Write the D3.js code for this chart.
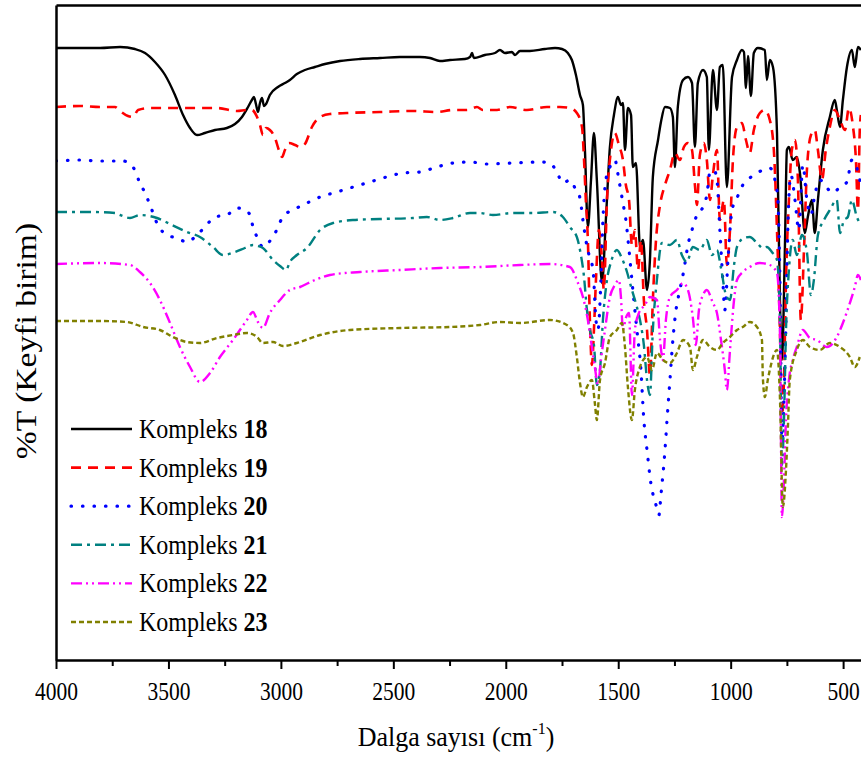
<!DOCTYPE html>
<html><head><meta charset="utf-8">
<script src="https://cdn.jsdelivr.net/npm/d3@7"></script>
<style>body{margin:0;background:#fff}svg{display:block}</style>
</head><body>
<svg id="chart" width="861" height="760"></svg>
<script>
const majorTicks = [4000,3500,3000,2500,2000,1500,1000,500];
const minorTicks = [3750,3250,2750,2250,1750,1250,750];
const legendNames = ["18","19","20","21","22","23"];
const colors = ["#000000","#ff0000","#0000ff","#008080","#ff00ff","#808000"];

const k18 = [[4000,122.4],[3804,122.4],[3715,122.6],[3649,122.2],[3604,121.4],[3560,119.6],[3515,117],[3471,113],[3435,109],[3404,106.4],[3373,105],[3338,105.4],[3293,106],[3240,106.4],[3204,107.2],[3173,108.6],[3146,110.6],[3129,112],[3120,112.6],[3111,111.2],[3102,109.6],[3093,111.4],[3084,112.4],[3075,110.8],[3066,111.2],[3049,113],[3013,114.6],[2982,115.4],[2960,116],[2929,117.2],[2893,118],[2849,118.6],[2804,119.2],[2737,119.8],[2648,120.2],[2559,120.4],[2471,120.6],[2382,120.6],[2337,120.4],[2293,119.8],[2248,120],[2182,120.2],[2159,120.6],[2150,121.4],[2142,120.4],[2093,121],[2048,121.4],[2026,122],[2004,121.4],[1973,121.6],[1959,121],[1937,121.8],[1893,121.8],[1826,122.2],[1781,122.4],[1750,122.2],[1724,121.4],[1706,120],[1688,117],[1670,113],[1657,111],[1648,102],[1635,86.6],[1621,96],[1608,105.4],[1595,96],[1572,75.4],[1555,88],[1537,102.6],[1519,109],[1501,112.6],[1488,111],[1479,111.4],[1470,102],[1457,110.4],[1443,109],[1435,98.6],[1421,99.4],[1403,82.6],[1390,84],[1372,74],[1359,80],[1346,96.6],[1323,104],[1310,107.6],[1292,110.6],[1270,110.4],[1257,108.6],[1248,98.6],[1235,110.6],[1212,116],[1190,116.6],[1172,115.4],[1159,102.6],[1146,115.4],[1123,118],[1106,116.6],[1097,102],[1079,118],[1061,110],[1048,118.6],[1035,119],[1017,94.6],[994,116.6],[972,120],[950,122],[941,121.6],[932,114.4],[923,120.8],[910,112.8],[897,121.4],[879,122.4],[848,122],[839,116],[826,120],[812,118.6],[794,105.4],[781,72],[772,60],[759,82],[750,102],[741,102.6],[724,100],[706,100.6],[692,97.4],[670,85.4],[657,88.6],[639,92],[626,85.4],[612,92],[590,102],[559,108.6],[537,112],[528,110],[514,106.6],[501,112],[483,118.6],[461,122],[448,118.6],[434,122.6],[421,122]];

const k19 = [[4000,110.6],[3893,110.8],[3804,110.6],[3738,110.6],[3715,109.8],[3680,108.8],[3658,108.6],[3635,110],[3582,110.4],[3449,110.4],[3284,110.4],[3195,109.8],[3151,110],[3129,110],[3106,108.6],[3093,107],[3080,105],[3066,106.4],[3049,106],[3026,104.4],[3009,102],[2995,100.6],[2982,102],[2964,103.4],[2937,103],[2915,102.6],[2893,103.2],[2862,106.6],[2826,108.6],[2782,109.2],[2706,109.4],[2559,109.6],[2413,109.8],[2306,109.6],[2235,110],[2173,110],[2128,110.6],[2102,110],[2039,110],[1982,110.6],[1906,110],[1817,110.6],[1760,110.6],[1715,110.4],[1684,109.4],[1661,106.6],[1652,100],[1644,92],[1635,84],[1626,68],[1617,59],[1608,66],[1599,76],[1586,86],[1572,80],[1564,74],[1550,92],[1532,102],[1515,105.4],[1497,103],[1479,100],[1466,95],[1452,92],[1439,83],[1426,86],[1412,78],[1399,84],[1386,72],[1372,66],[1359,57],[1346,72],[1332,84],[1314,91],[1292,95],[1270,98],[1248,101.4],[1226,100],[1208,102.6],[1190,103.4],[1172,102],[1159,95],[1150,91],[1137,101],[1119,103.4],[1106,100],[1092,92],[1079,97],[1061,102],[1048,88],[1030,92],[1017,79],[1003,86],[990,100],[972,106.6],[950,107.4],[932,104],[915,101.4],[897,106],[870,109.4],[848,110],[826,108],[808,102],[794,86],[781,66],[772,49],[763,56],[754,76],[741,92],[728,102],[714,104],[701,96],[688,68],[674,82],[661,98],[643,105],[626,106],[612,102],[594,96],[577,102],[559,106.6],[537,110],[514,108],[492,106],[474,110.4],[457,107],[443,100],[434,90],[426,106],[421,109]];

const k20 = [[4000,99.8],[3893,100],[3804,99.8],[3702,99.8],[3658,98.6],[3627,95.4],[3604,93.4],[3582,91],[3547,87],[3507,85],[3462,84.4],[3418,83.6],[3373,85],[3338,86.6],[3293,88.6],[3240,89],[3195,90.4],[3160,90],[3137,89],[3124,86.6],[3106,84.6],[3080,82.6],[3057,83.4],[3035,84.6],[2991,88.6],[2929,90.4],[2884,91.4],[2826,92.6],[2751,93.6],[2693,94.4],[2604,95.6],[2515,96.8],[2457,97.4],[2382,97.6],[2306,98.6],[2235,99.4],[2159,99.6],[2084,99.2],[1968,99.4],[1848,99.6],[1804,99.4],[1773,97.6],[1746,95.4],[1715,96],[1688,94],[1670,92.4],[1657,88],[1644,84],[1630,81],[1612,78],[1599,68],[1590,66],[1577,76],[1568,88],[1555,96],[1537,98.6],[1515,100],[1497,96],[1479,91.4],[1466,88],[1452,82],[1435,74],[1417,66],[1399,58],[1386,48],[1372,42],[1355,35.4],[1332,31],[1319,29],[1310,33],[1292,42],[1283,48],[1270,56],[1257,64],[1243,70],[1226,74],[1208,78],[1190,83],[1172,86],[1150,89],[1123,90.6],[1106,93],[1092,97.6],[1074,98],[1061,96],[1048,86],[1035,76],[1026,70],[1012,80],[994,90],[972,92.4],[946,95],[915,96.4],[883,97.4],[857,98],[826,98.4],[803,96],[790,92],[781,76],[772,44],[763,52],[754,68],[746,86],[732,97],[714,92],[697,86],[679,99],[661,92],[643,89],[626,93],[603,96],[572,94.4],[546,93.4],[514,94.6],[483,95.6],[461,100],[439,98.4],[421,95]];

const k21 = [[4000,89.6],[3849,89.6],[3738,89.4],[3715,89],[3671,88.4],[3627,89],[3551,88.4],[3493,87.2],[3418,85.6],[3360,84.6],[3302,82.6],[3258,81],[3204,81.6],[3160,82.4],[3124,83],[3102,82.8],[3080,82.4],[3035,80],[3004,78.8],[2977,78],[2960,79.6],[2929,81],[2884,82.4],[2826,86],[2768,87.4],[2680,88],[2559,88.2],[2413,88.4],[2351,88.6],[2293,88],[2235,88.4],[2159,89.4],[2115,89.4],[2057,89],[1968,89.4],[1879,89.4],[1790,89.6],[1746,88.6],[1715,86.6],[1684,84.6],[1666,81],[1653,77],[1639,70],[1626,66],[1608,63],[1595,55],[1581,58],[1568,68],[1550,76],[1532,79.6],[1506,82],[1484,80.4],[1461,77.6],[1439,74],[1417,70.6],[1399,67],[1386,63],[1372,56],[1359,53],[1346,66],[1328,76],[1306,83.4],[1270,83],[1239,84],[1217,81],[1195,79.6],[1168,82.6],[1137,82],[1106,84],[1083,81],[1061,82],[1043,78.4],[1021,73],[1003,72],[985,79],[972,82.6],[941,84.4],[915,84.6],[883,83.4],[857,82.4],[839,82.6],[817,81.6],[794,80],[781,68],[772,39],[763,48],[754,66],[741,78],[724,84],[706,81],[683,85],[661,81.6],[643,73],[630,76],[612,85],[585,88],[559,90],[528,92],[514,85.4],[496,88],[479,88.6],[461,92],[439,88.6],[421,87]];

const k22 = [[4000,79.2],[3804,79.4],[3671,79],[3627,77.6],[3582,75.4],[3538,72],[3493,67.4],[3449,62.6],[3404,58.6],[3360,55.6],[3315,57.4],[3271,60.6],[3213,64],[3151,68],[3124,69.6],[3102,67.6],[3080,66.4],[3049,69.4],[3004,72],[2960,74],[2915,74.6],[2849,76],[2782,77],[2648,77.6],[2471,78],[2293,78.4],[2115,78.6],[1937,79],[1804,79.2],[1715,78.6],[1679,75.4],[1657,72.6],[1635,68],[1617,62.6],[1604,58.6],[1590,55],[1577,60],[1559,66],[1537,72.6],[1515,75],[1497,76],[1488,72.6],[1479,66],[1466,68.4],[1452,69.4],[1439,53],[1426,66],[1408,69.4],[1381,71],[1359,72.6],[1328,72],[1314,64],[1301,60],[1288,68],[1270,72.6],[1239,74],[1212,75.4],[1190,74],[1168,68.4],[1155,63],[1141,70],[1123,73],[1106,74],[1079,71.4],[1061,69.4],[1043,64],[1026,58],[1017,54],[1003,62],[985,72],[972,76],[946,77.6],[915,78.6],[870,79.4],[826,79],[794,77.4],[781,66],[772,28.6],[763,36],[754,48],[741,56],[724,60],[706,62.6],[679,66],[648,64.4],[617,64],[572,62.6],[528,64.6],[501,67.4],[470,71.4],[448,74.6],[434,77],[421,76]];

const k23 = [[4000,67.8],[3804,67.8],[3684,67.6],[3613,66.6],[3538,66],[3480,64.6],[3418,63.6],[3360,63.4],[3284,64.4],[3213,65],[3151,65.4],[3106,64.6],[3080,63.4],[3035,63.6],[2991,62.8],[2929,63.4],[2826,65],[2693,66],[2471,66.4],[2248,66.6],[2115,67],[2026,67.6],[1937,67.4],[1804,68],[1728,67],[1701,65.4],[1684,60.6],[1670,55.4],[1657,52.6],[1639,54.6],[1617,56],[1604,51.4],[1595,48],[1581,56],[1559,59.4],[1537,64.6],[1506,66],[1484,67.4],[1470,62.6],[1457,54.6],[1439,48],[1426,54],[1408,58],[1372,60.6],[1350,58],[1328,61.4],[1301,60],[1270,59.4],[1239,61.4],[1212,64],[1181,62.6],[1168,58],[1150,60.6],[1123,64],[1092,62.6],[1061,62],[1035,63.4],[1003,64.6],[972,66],[946,66.6],[915,67.6],[883,66.6],[861,64],[857,56.6],[848,52.6],[835,56],[826,58],[794,62],[781,52.6],[768,30.6],[754,38],[746,46],[737,56],[706,62],[679,64],[648,62.6],[603,62],[559,63.4],[514,62.6],[470,60.6],[448,58.6],[426,60.6]];

const seriesData = [k18,k19,k20,k21,k22,k23];
const dashes = ["none","10,7","0.5,11","11,5,3,5","11,4,2,4,2,4","5,3"];
const widths = [2.4,2.6,3.2,2.4,2.4,2.4];

const svg = d3.select("#chart");
const x = d3.scaleLinear().domain([4000,400]).range([56,865.6]);
const y = d3.scaleLinear().domain([0,131]).range([660,5]);
const fontSerif = "'Liberation Serif','Times New Roman',serif";

svg.append("defs").append("clipPath").attr("id","clip")
  .append("rect").attr("x",56).attr("y",5).attr("width",809.6).attr("height",655);

const line = d3.line().x(d=>x(d[0])).y(d=>y(d[1])).curve(d3.curveMonotoneX);
const plot = svg.append("g").attr("clip-path","url(#clip)");
seriesData.forEach((s,i)=>{
  plot.append("path").datum(s).attr("d",line)
    .attr("fill","none").attr("stroke",colors[i]).attr("stroke-width",widths[i])
    .attr("stroke-dasharray",dashes[i]==="none"?null:dashes[i])
    .attr("stroke-linecap",i===2?"round":"butt").attr("stroke-linejoin","round");
});

// axes
const gx = svg.append("g").attr("transform","translate(0,660)")
  .call(d3.axisBottom(x).tickValues(majorTicks).tickSize(9).tickSizeOuter(0).tickFormat(d3.format("d")));
gx.select(".domain").attr("stroke-width",2.5);
gx.selectAll(".tick line").attr("stroke-width",2);
gx.selectAll(".tick text").attr("y",0).attr("dy",null)
  .attr("font-family",fontSerif).attr("font-size",21.5).attr("fill","#000")
  .attr("transform","translate(0,40) scale(1,1.15)");
const gxm = svg.append("g").attr("transform","translate(0,660)")
  .call(d3.axisBottom(x).tickValues(minorTicks).tickSize(6).tickSizeOuter(0).tickFormat(""));
gxm.select(".domain").remove();
gxm.selectAll(".tick line").attr("stroke-width",2);

const gt = svg.append("g").attr("transform","translate(0,5)")
  .call(d3.axisTop(x).tickValues([]).tickSizeOuter(0));
gt.select(".domain").attr("stroke-width",2.5);
const gl = svg.append("g").attr("transform","translate(56,0)")
  .call(d3.axisLeft(y).tickValues([]).tickSizeOuter(0));
gl.select(".domain").attr("stroke-width",2.5);
const gr = svg.append("g").attr("transform","translate(865.6,0)")
  .call(d3.axisRight(y).tickValues([]).tickSizeOuter(0));
gr.select(".domain").attr("stroke-width",2.5);

// axis titles
const xt = svg.append("text").attr("transform","translate(456,746) scale(1,1.08)")
  .attr("text-anchor","middle").attr("font-family",fontSerif).attr("font-size",26).attr("fill","#000");
xt.append("tspan").text("Dalga sayısı (cm");
xt.append("tspan").attr("font-size",16).attr("dy",-11).text("-1");
xt.append("tspan").attr("dy",11).text(")");

svg.append("text").attr("transform","translate(36,341) rotate(-90) scale(1.12,1)")
  .attr("text-anchor","middle").attr("font-family",fontSerif).attr("font-size",30).attr("fill","#000")
  .text("%T (Keyfi birim)");

// legend
const lg = svg.append("g");
legendNames.forEach((n,i)=>{
  const by = 438 + i*38.6;
  lg.append("line").attr("x1",71).attr("x2",132).attr("y1",by-9).attr("y2",by-9)
    .attr("stroke",colors[i]).attr("stroke-width",widths[i])
    .attr("stroke-dasharray",dashes[i]==="none"?null:dashes[i])
    .attr("stroke-linecap",i===2?"round":"butt");
  const t = lg.append("text").attr("transform",`translate(139,${by}) scale(1,1.14)`)
    .attr("font-family",fontSerif).attr("font-size",24).attr("fill","#000");
  t.append("tspan").text("Kompleks ");
  t.append("tspan").attr("font-weight","bold").text(n);
});
</script>
</body></html>
